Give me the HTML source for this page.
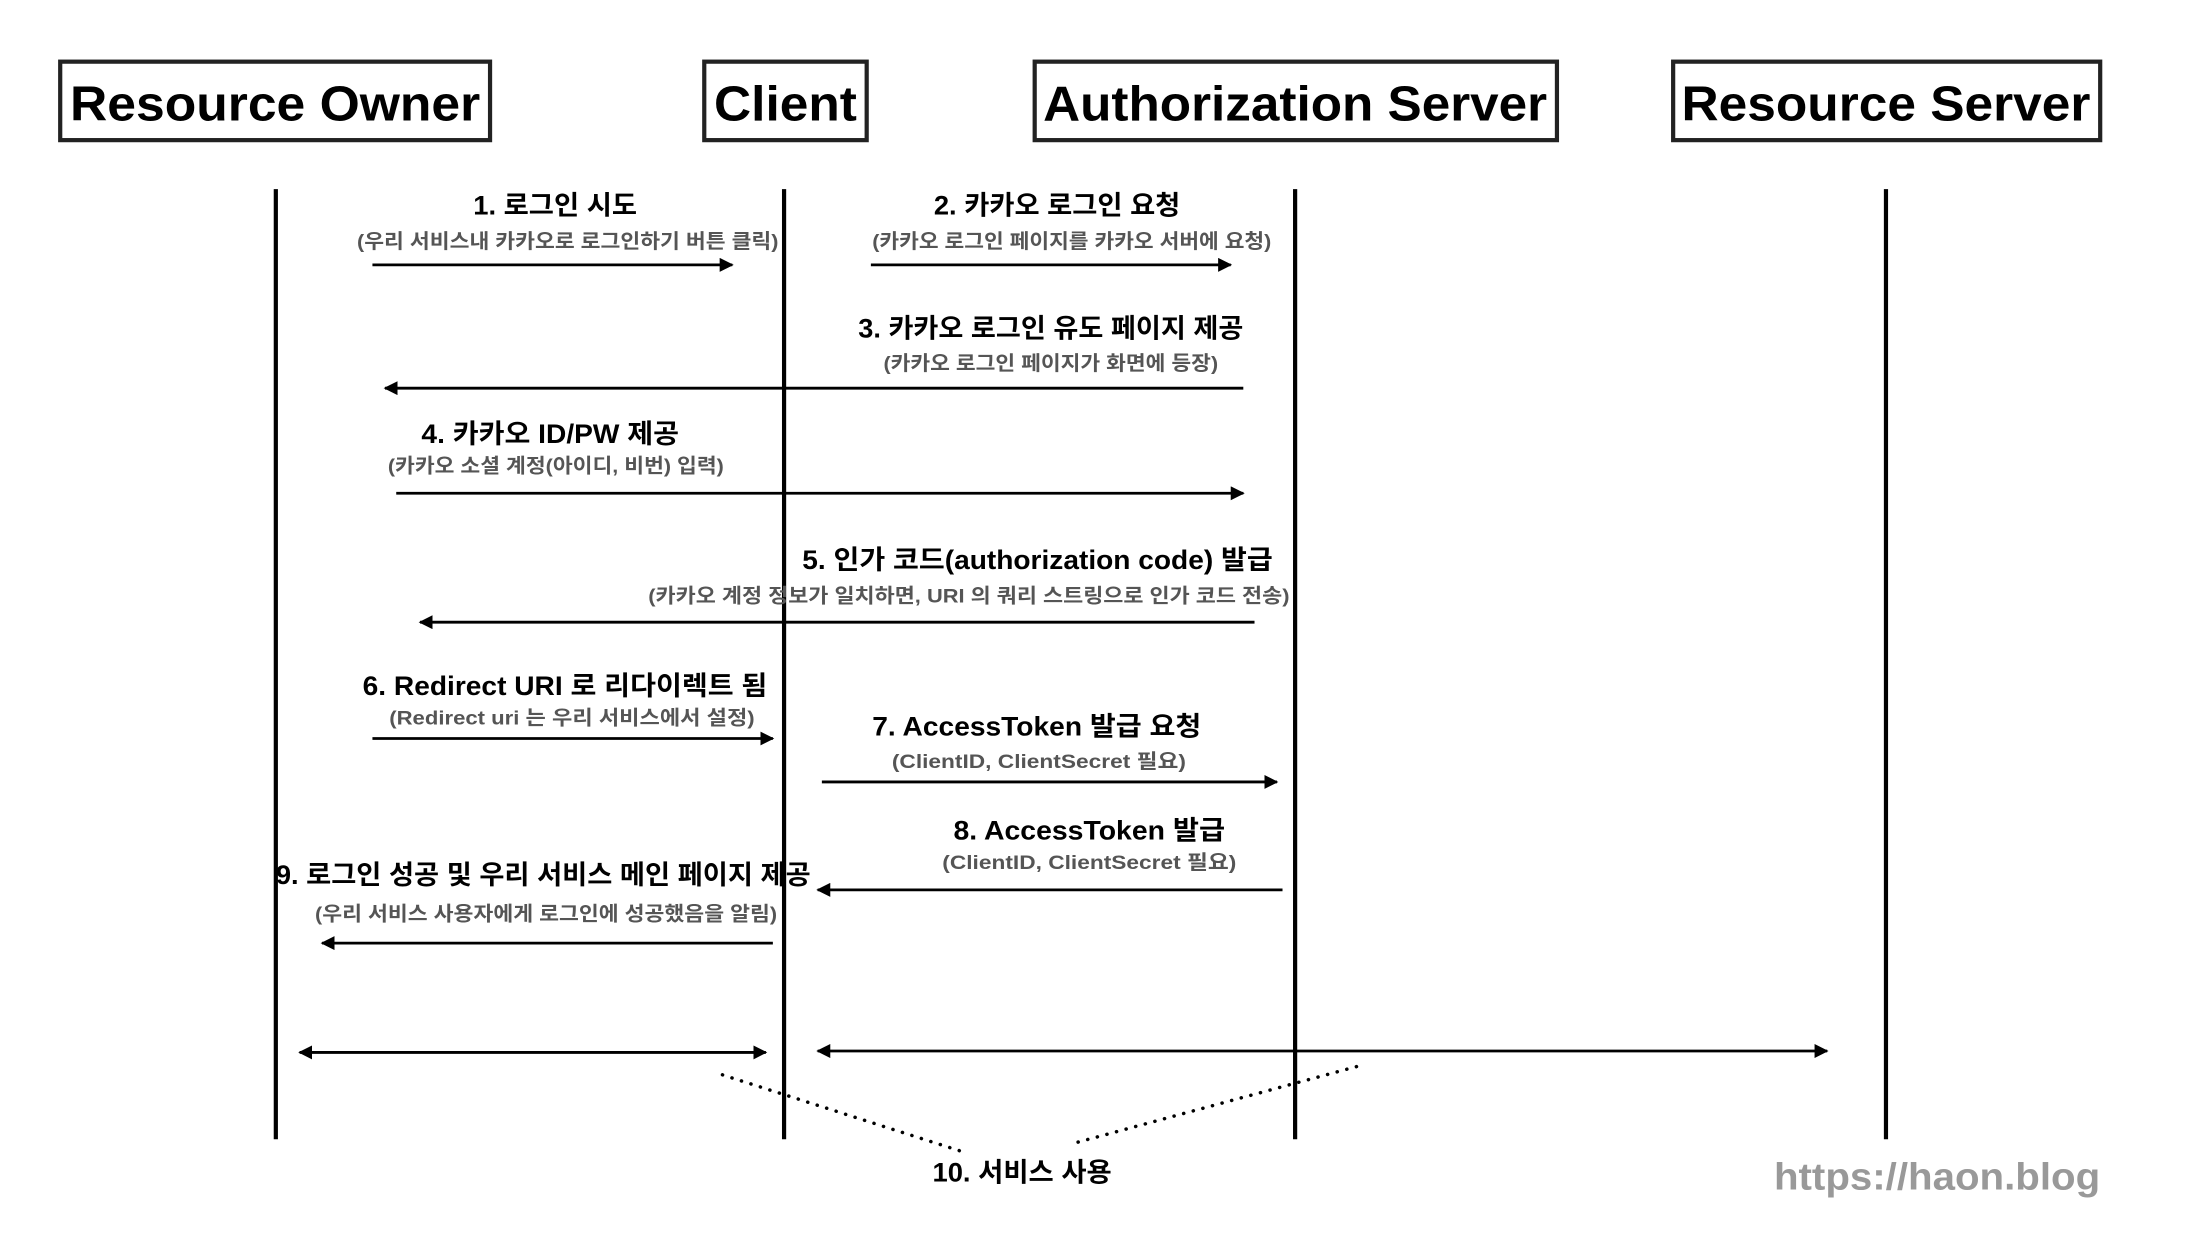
<!DOCTYPE html>
<html><head><meta charset="utf-8"><style>
html,body{margin:0;padding:0;background:#fff;}
svg{display:block;}
text{font-family:"Liberation Sans","Noto Sans CJK KR",sans-serif;font-weight:bold;}
</style></head><body>
<svg width="2194" height="1236" viewBox="0 0 1567 882" preserveAspectRatio="none" xmlns="http://www.w3.org/2000/svg">
<defs>
<marker id="ah" markerWidth="10" markerHeight="10" refX="9" refY="5" orient="auto" markerUnits="userSpaceOnUse"><path d="M0,0 L10,5 L0,10 z" fill="#000"/></marker>
<marker id="as" markerWidth="10" markerHeight="10" refX="1" refY="5" orient="auto" markerUnits="userSpaceOnUse"><path d="M10,0 L0,5 L10,10 z" fill="#000"/></marker>
</defs>
<g fill="none" stroke="#222" stroke-width="3">
<rect x="43" y="44" width="307" height="56"/>
<rect x="503" y="44" width="116" height="56"/>
<rect x="739" y="44" width="373" height="56"/>
<rect x="1195" y="44" width="305" height="56"/>
</g>
<g font-size="35" fill="#000">
<text x="50" y="86" textLength="293" lengthAdjust="spacingAndGlyphs">Resource Owner</text>
<text x="510" y="86" textLength="102" lengthAdjust="spacingAndGlyphs">Client</text>
<text x="745" y="86" textLength="360" lengthAdjust="spacingAndGlyphs">Authorization Server</text>
<text x="1201" y="86" textLength="292" lengthAdjust="spacingAndGlyphs">Resource Server</text>
</g>
<g stroke="#000" stroke-width="3">
<line x1="197" y1="135" x2="197" y2="813"/>
<line x1="560" y1="135" x2="560" y2="813"/>
<line x1="925" y1="135" x2="925" y2="813"/>
<line x1="1347" y1="135" x2="1347" y2="813"/>
</g>
<g stroke="#000" stroke-width="2">
<line x1="266" y1="189" x2="523" y2="189" marker-end="url(#ah)"/>
<line x1="622" y1="189" x2="879" y2="189" marker-end="url(#ah)"/>
<line x1="888" y1="277" x2="275" y2="277" marker-end="url(#ah)"/>
<line x1="283" y1="352" x2="888" y2="352" marker-end="url(#ah)"/>
<line x1="896" y1="444" x2="300" y2="444" marker-end="url(#ah)"/>
<line x1="266" y1="527" x2="552" y2="527" marker-end="url(#ah)"/>
<line x1="587" y1="558" x2="912" y2="558" marker-end="url(#ah)"/>
<line x1="916" y1="635" x2="584" y2="635" marker-end="url(#ah)"/>
<line x1="552" y1="673" x2="230" y2="673" marker-end="url(#ah)"/>
<line x1="214" y1="751" x2="547" y2="751" marker-end="url(#ah)" marker-start="url(#as)"/>
<line x1="584" y1="750" x2="1305" y2="750" marker-end="url(#ah)" marker-start="url(#as)"/>
</g>
<g stroke="#000" stroke-width="2.5" stroke-dasharray="0.1 7" stroke-linecap="round">
<line x1="516" y1="767" x2="688" y2="822"/>
<line x1="770" y1="815" x2="973" y2="760"/>
</g>
<g font-size="19" fill="#000">
<text x="338" y="153" textLength="117" lengthAdjust="spacingAndGlyphs">1. 로그인 시도</text>
<text x="667" y="153" textLength="176" lengthAdjust="spacingAndGlyphs">2. 카카오 로그인 요청</text>
<text x="613" y="241" textLength="275" lengthAdjust="spacingAndGlyphs">3. 카카오 로그인 유도 페이지 제공</text>
<text x="301" y="316" textLength="184" lengthAdjust="spacingAndGlyphs">4. 카카오 ID/PW 제공</text>
<text x="573" y="406" textLength="336" lengthAdjust="spacingAndGlyphs">5. 인가 코드(authorization code) 발급</text>
<text x="259" y="496" textLength="289" lengthAdjust="spacingAndGlyphs">6. Redirect URI 로 리다이렉트 됨</text>
<text x="623" y="525" textLength="235" lengthAdjust="spacingAndGlyphs">7. AccessToken 발급 요청</text>
<text x="681" y="599" textLength="194" lengthAdjust="spacingAndGlyphs">8. AccessToken 발급</text>
<text x="197" y="631" textLength="382" lengthAdjust="spacingAndGlyphs">9. 로그인 성공 및 우리 서비스 메인 페이지 제공</text>
<text x="666" y="843" textLength="128" lengthAdjust="spacingAndGlyphs">10. 서비스 사용</text>
</g>
<g font-size="14" fill="#555">
<text x="255" y="177" textLength="301" lengthAdjust="spacingAndGlyphs">(우리 서비스내 카카오로 로그인하기 버튼 클릭)</text>
<text x="623" y="177" textLength="285" lengthAdjust="spacingAndGlyphs">(카카오 로그인 페이지를 카카오 서버에 요청)</text>
<text x="631" y="264" textLength="239" lengthAdjust="spacingAndGlyphs">(카카오 로그인 페이지가 화면에 등장)</text>
<text x="277" y="337" textLength="240" lengthAdjust="spacingAndGlyphs">(카카오 소셜 계정(아이디, 비번) 입력)</text>
<text x="463" y="430" textLength="458" lengthAdjust="spacingAndGlyphs">(카카오 계정 정보가 일치하면, URI 의 쿼리 스트링으로 인가 코드 전송)</text>
<text x="278" y="517" textLength="261" lengthAdjust="spacingAndGlyphs">(Redirect uri 는 우리 서비스에서 설정)</text>
<text x="637" y="548" textLength="210" lengthAdjust="spacingAndGlyphs">(ClientID, ClientSecret 필요)</text>
<text x="673" y="620" textLength="210" lengthAdjust="spacingAndGlyphs">(ClientID, ClientSecret 필요)</text>
<text x="225" y="657" textLength="330" lengthAdjust="spacingAndGlyphs">(우리 서비스 사용자에게 로그인에 성공했음을 알림)</text>
</g>
<text x="1267" y="849" font-size="27" fill="#999" textLength="233" lengthAdjust="spacingAndGlyphs">https://haon.blog</text>
</svg>
</body></html>
